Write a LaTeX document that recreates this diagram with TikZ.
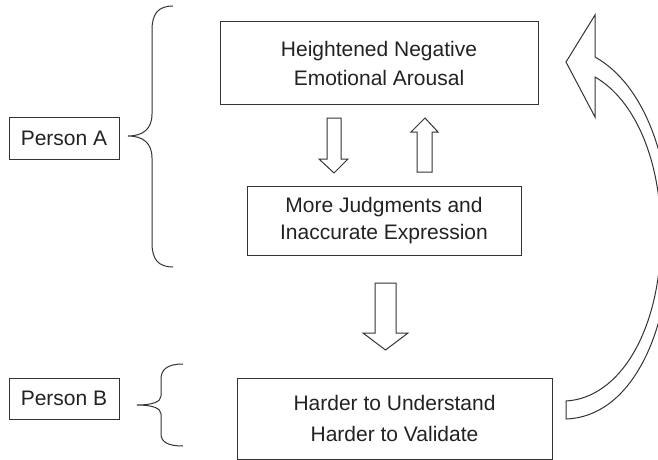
\documentclass[tikz,border=0pt]{standalone}
\usepackage{fontspec}
\setmainfont{Liberation Sans}
\usetikzlibrary{positioning}
\definecolor{linegray}{HTML}{333333}
\definecolor{textgray}{HTML}{222222}
\tikzset{
  bx/.style = {draw=linegray, line width=1pt, inner sep=0pt, align=center,
    text=textgray, font=\fontsize{21}{29}\selectfont},% boite de base
  bx_main/.style = {bx, minimum width=318pt, minimum height=82pt},% grande boite
  bx_person/.style = {bx, minimum width=110pt, minimum height=42pt},% personne
  brace_line/.style = {draw=linegray, line width=1pt},% accolade
  blk_arrow/.style = {draw=linegray, line width=1pt, fill=white,
    line join=miter}% fleche pleine
}
\begin{document}
\begin{tikzpicture}[x=1pt,y=-1pt]
\useasboundingbox (0,0) rectangle (658,460);
\clip (0,0) rectangle (658,460);
\node [bx_main] (arousal) at (379,63) {Heightened Negative\\Emotional Arousal};
\node [bx, minimum width=274pt, minimum height=69pt,
  font=\fontsize{21}{27}\selectfont] (judgments) at (384,220.5)
  {More Judgments and\\Inaccurate Expression};
\node [bx_main, minimum width=315pt, minimum height=81pt,
  font=\fontsize{21}{31}\selectfont] (harder) at (394.5,418.5)
  {Harder to Understand\\Harder to Validate};
\node [bx_person] (personA) at (64,138) {Person A};
\node [bx_person, minimum height=41pt] (personB) at (64,398.5) {Person B};
% accolades
\draw [brace_line] (173,6) .. controls (158,6) and (152,14) .. (152,30)
  -- (152,114) .. controls (152,129) and (143,136) .. (128,136)
  .. controls (143,136) and (152,143) .. (152,158)
  -- (152,243) .. controls (152,259) and (158,267) .. (173,267);
\draw [brace_line] (183,364) .. controls (168,364) and (161,369) .. (161,379)
  -- (161,396) .. controls (161,402) and (152,405) .. (137,405)
  .. controls (152,405) and (161,408) .. (161,414)
  -- (161,434) .. controls (161,442) and (168,446) .. (183,446);
% fleches pleines
\draw [blk_arrow] (327,118) -- (341,118) -- (341,159) -- (348,159) -- (334,173)
  -- (319,159) -- (327,159) -- cycle;
\draw [blk_arrow] (417,172) -- (432,172) -- (432,132) -- (438,132) -- (425,118)
  -- (411,132) -- (417,132) -- cycle;
\draw [blk_arrow] (375,283) -- (396,283) -- (396,333) -- (408,333) -- (385.5,350)
  -- (363,333) -- (375,333) -- cycle;
% fleche courbe
\draw [blk_arrow] (566,401) .. controls (620,398) and (661,330) .. (661,235)
  .. controls (661,160) and (635,100) .. (595,77)
  -- (595,117) -- (566,62) -- (595,15) -- (595,57)
  .. controls (645,85) and (670,160) .. (670,235)
  .. controls (670,335) and (630,417) .. (566,419) -- cycle;
\end{tikzpicture}
\end{document}
